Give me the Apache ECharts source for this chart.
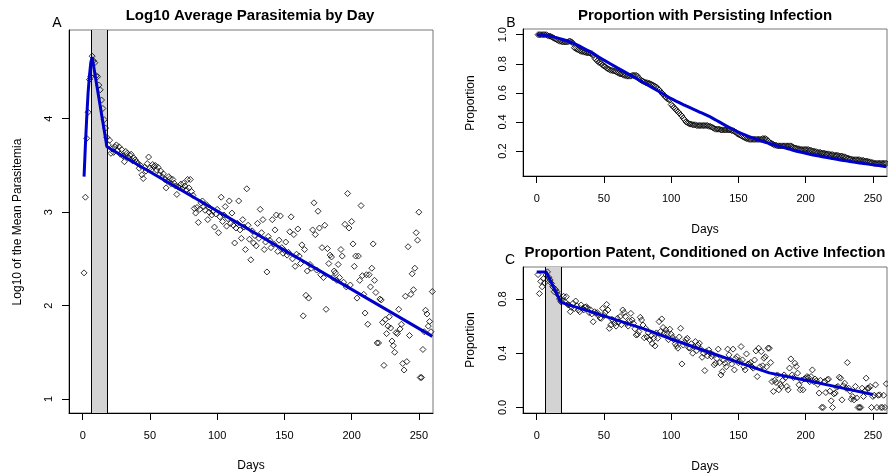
<!DOCTYPE html>
<html><head><meta charset="utf-8">
<script src="https://cdn.jsdelivr.net/npm/echarts@6/dist/echarts.min.js"></script>
<style>html,body{margin:0;padding:0;background:#fff}#c{width:888px;height:476px}</style>
</head><body><div id="c"></div>
<script>
// ---------- data ----------
const firstDay = 1;
// Panel A: log10 mean parasitemia, one value per day (day 1..260)
const parasitemia = [
2.35,3.16,3.79,4.07,4.42,4.45,4.67,4.62,4.60,4.46,
4.45,4.36,4.31,4.20,4.11,3.99,3.90,3.80,3.72,3.77,
3.63,3.68,3.64,3.70,3.72,3.66,3.70,3.62,3.67,3.60,
3.54,3.65,3.63,3.58,3.61,3.62,3.55,3.58,3.56,3.54,
3.52,3.47,3.50,3.40,3.36,3.48,3.44,3.52,3.59,3.47,
3.45,3.51,3.49,3.50,3.45,3.48,3.40,3.44,3.38,3.41,
3.35,3.26,3.33,3.38,3.36,3.30,3.35,3.31,3.28,3.19,
3.27,3.26,3.30,3.25,3.31,3.28,3.24,3.35,3.26,3.35,
3.22,3.18,3.04,2.99,3.05,2.89,3.03,3.10,3.12,3.06,
3.02,3.08,2.92,3.00,3.04,2.97,3.01,2.84,2.98,3.03,
2.78,2.95,3.16,2.90,2.97,3.06,2.85,2.93,3.12,2.88,
2.99,2.86,2.67,2.83,2.88,3.12,2.81,2.72,2.92,2.84,
2.60,3.25,2.86,2.71,2.49,2.80,2.67,2.75,2.64,2.88,
2.72,3.03,2.78,2.92,2.60,2.68,2.36,2.74,2.70,2.62,
2.92,2.66,2.81,2.97,2.58,2.70,2.96,2.62,2.56,2.59,
2.68,2.54,2.57,2.79,2.95,2.50,2.76,2.42,2.55,2.82,
2.53,2.45,2.65,1.89,2.60,2.11,2.37,2.08,2.44,2.40,
2.81,3.10,2.76,2.38,3.01,2.83,2.33,2.62,2.30,2.86,
1.96,2.61,2.45,2.54,2.52,2.30,2.37,2.35,2.27,2.44,
2.30,2.60,2.53,2.25,2.87,2.20,3.20,2.83,2.22,2.90,
2.66,2.42,2.53,2.08,2.53,2.27,3.07,2.32,2.12,1.92,
2.33,1.80,2.33,2.20,2.40,2.66,2.27,2.14,1.60,1.60,
2.07,2.06,1.82,1.36,1.85,1.70,1.78,1.88,1.76,1.62,
1.57,1.50,1.71,1.70,1.96,1.75,1.80,1.38,1.31,2.10,
1.40,2.63,1.68,2.12,2.34,2.17,2.40,2.78,2.70,3.00,
1.23,1.23,1.53,1.72,1.95,1.91,1.78,1.83,1.72,2.15];
const fitDaysA = [1,2,3,4,5,6,7,18,260];
const fitValsA = [3.38,3.72,4.02,4.28,4.46,4.60,4.66,3.70,1.67];

// Panel B: proportion with persisting infection (day 1..260)
const persisting = [
1,1,1,1,1,1,1,0.995,0.99,0.99,
0.985,0.98,0.975,0.97,0.965,0.96,0.955,0.955,0.95,0.95,
0.95,0.95,0.95,0.955,0.955,0.95,0.94,0.91,0.905,0.90,
0.895,0.89,0.885,0.885,0.88,0.88,0.875,0.875,0.875,0.87,
0.87,0.86,0.84,0.83,0.82,0.81,0.81,0.80,0.79,0.785,
0.78,0.77,0.765,0.76,0.755,0.755,0.75,0.75,0.745,0.74,
0.735,0.73,0.73,0.725,0.72,0.72,0.715,0.715,0.715,0.715,
0.72,0.72,0.72,0.72,0.715,0.70,0.69,0.685,0.68,0.675,
0.67,0.67,0.665,0.665,0.66,0.655,0.65,0.645,0.64,0.63,
0.62,0.61,0.60,0.59,0.58,0.57,0.56,0.555,0.55,0.52,
0.51,0.50,0.49,0.48,0.47,0.46,0.45,0.44,0.425,0.415,
0.40,0.395,0.39,0.385,0.385,0.38,0.38,0.38,0.375,0.375,
0.375,0.375,0.375,0.375,0.375,0.375,0.375,0.37,0.37,0.365,
0.36,0.355,0.35,0.35,0.35,0.35,0.345,0.345,0.345,0.345,
0.345,0.345,0.345,0.345,0.34,0.34,0.335,0.33,0.32,0.315,
0.31,0.305,0.30,0.295,0.29,0.285,0.285,0.28,0.28,0.28,
0.28,0.28,0.28,0.28,0.28,0.28,0.28,0.285,0.285,0.285,
0.28,0.27,0.26,0.255,0.25,0.245,0.24,0.24,0.235,0.235,
0.235,0.235,0.235,0.235,0.235,0.235,0.235,0.235,0.235,0.23,
0.225,0.22,0.22,0.215,0.215,0.21,0.21,0.21,0.21,0.21,
0.21,0.21,0.205,0.205,0.20,0.20,0.195,0.195,0.19,0.19,
0.19,0.185,0.185,0.185,0.18,0.18,0.18,0.175,0.175,0.175,
0.17,0.17,0.17,0.17,0.165,0.165,0.165,0.16,0.16,0.155,
0.15,0.15,0.145,0.145,0.14,0.14,0.14,0.14,0.14,0.14,
0.135,0.135,0.135,0.13,0.13,0.13,0.125,0.125,0.12,0.12,
0.115,0.115,0.115,0.115,0.115,0.115,0.115,0.115,0.115,0.115];
const fitDaysB = [0,10,20,30,40,50,60,70,80,90,100,110,120,130,140,150,160,170,180,190,200,210,220,230,240,250,260];
const fitValsB = [1.0,0.99,0.965,0.93,0.88,0.825,0.772,0.72,0.668,0.614,0.56,0.515,0.473,0.43,0.378,0.33,0.292,0.26,0.233,0.207,0.185,0.165,0.148,0.132,0.118,0.105,0.092];

// Panel C: proportion patent given active infection (day 1..260)
const patent = [
0.98,0.84,0.93,0.89,0.95,0.92,0.977,1.0,0.96,0.94,
0.915,0.89,0.854,0.87,0.854,0.83,0.80,0.78,0.79,0.82,
0.78,0.817,0.76,0.755,0.706,0.74,0.768,0.73,0.785,0.75,
0.719,0.706,0.756,0.73,0.72,0.74,0.743,0.731,0.70,0.72,
0.69,0.632,0.706,0.694,0.70,0.68,0.66,0.657,0.731,0.68,
0.70,0.76,0.719,0.583,0.608,0.65,0.64,0.62,0.60,0.657,
0.63,0.67,0.61,0.719,0.70,0.67,0.62,0.60,0.64,0.694,
0.645,0.62,0.58,0.534,0.539,0.559,0.665,0.645,0.608,0.514,
0.583,0.52,0.55,0.50,0.53,0.47,0.51,0.454,0.55,0.51,
0.633,0.56,0.653,0.59,0.55,0.572,0.547,0.50,0.577,0.54,
0.518,0.50,0.47,0.454,0.437,0.52,0.584,0.321,0.46,0.479,
0.50,0.51,0.44,0.437,0.47,0.40,0.449,0.486,0.42,0.46,
0.474,0.43,0.37,0.40,0.272,0.412,0.38,0.425,0.40,0.375,
0.39,0.314,0.326,0.36,0.43,0.33,0.24,0.265,0.35,0.326,
0.30,0.43,0.388,0.35,0.32,0.43,0.277,0.36,0.375,0.33,
0.34,0.449,0.351,0.30,0.277,0.395,0.32,0.321,0.331,0.30,
0.29,0.35,0.417,0.228,0.437,0.30,0.412,0.307,0.363,0.374,
0.30,0.437,0.437,0.331,0.191,0.118,0.20,0.184,0.24,0.13,
0.17,0.155,0.20,0.24,0.22,0.155,0.13,0.29,0.358,0.24,
0.22,0.326,0.302,0.253,0.167,0.13,0.20,0.13,0.21,0.216,
0.228,0.22,0.19,0.228,0.277,0.191,0.21,0.196,0.17,0.106,
0.20,0.0,0.0,0.191,0.11,0.204,0.209,0.12,0.049,0.0,
0.10,0.106,0.15,0.155,0.223,0.216,0.056,0.16,0.179,0.142,
0.331,0.142,0.12,0.061,0.08,0.056,0.155,0.07,0.0,0.0,
0.0,0.142,0.081,0.12,0.216,0.142,0.142,0.155,0.0,0.081,
0.09,0.167,0.0,0.09,0.093,0.0,0.0,0.09,0.0,0.174];
const fitDaysC = [0,7,18,50,82,100,125,150,173,200,225,250];
const fitValsC = [1.0,1.0,0.775,0.675,0.572,0.505,0.418,0.333,0.255,0.20,0.148,0.096];

const xTicks = [0,50,100,150,200,250];
const yTicksA = [1,2,3,4];
const yTicksB = [0.2,0.4,0.6,0.8,1.0];
const yTicksC = [0.0,0.4,0.8];
const shadeDays = [6.4, 18.3];

// ---------- chart ----------
const FONT = '"Liberation Sans", Arial, sans-serif';
const pairs = (xs, ys) => xs.map((x, i) => [x, ys[i]]);
const byDay = vals => vals.map((v, i) => [firstDay + i, v]);

function xAx(gi) {
  return {
    gridIndex: gi, type: 'value', min: -10.2, max: 260.5,
    axisLine: { onZero: false, lineStyle: { color: '#000', width: 1 } },
    axisTick: { customValues: xTicks, length: 7, lineStyle: { color: '#000' } },
    axisLabel: { customValues: xTicks, color: '#000', fontSize: 11, fontFamily: FONT, margin: 17 },
    splitLine: { show: false }
  };
}
function yAx(gi, min, max, ticks, fmt) {
  return {
    gridIndex: gi, type: 'value', min: min, max: max,
    axisLine: { onZero: false, lineStyle: { color: '#000', width: 1 } },
    axisTick: { customValues: ticks, length: 7, lineStyle: { color: '#000' } },
    axisLabel: { customValues: ticks, color: '#000', fontSize: 11, fontFamily: FONT, margin: 15, rotate: 90,
      formatter: v => fmt(v) },
    splitLine: { show: false }
  };
}
const pointStyle = {
  type: 'scatter', symbol: 'diamond', symbolSize: 6, silent: true, z: 3,
  itemStyle: { color: 'rgba(0,0,0,0)', borderColor: '#000', borderWidth: 1 }
};
const fitStyle = {
  type: 'line', showSymbol: false, silent: true, z: 4,
  lineStyle: { color: '#0000cd', width: 3 }
};
function shade(gi) {
  return {
    type: 'scatter', xAxisIndex: gi, yAxisIndex: gi, data: [], z: 1, silent: true,
    markArea: { silent: true, itemStyle: { color: '#d3d3d3' },
      data: [[{ xAxis: shadeDays[0] }, { xAxis: shadeDays[1] }]] },
    markLine: { silent: true, symbol: ['none', 'none'], label: { show: false },
      lineStyle: { color: '#000', type: 'solid', width: 1 },
      data: [{ xAxis: shadeDays[0] }, { xAxis: shadeDays[1] }] }
  };
}
function txt(x, y, text, size, bold, rot) {
  return { type: 'text', x: x, y: y, rotation: rot || 0, silent: true,
    style: { text: text, fontSize: size, fontWeight: bold ? 'bold' : 'normal', fontFamily: FONT,
      fill: '#000', align: 'center', verticalAlign: 'middle' } };
}

const gridBase = { show: true, borderColor: '#777', borderWidth: 1, backgroundColor: 'transparent' };
const option = {
  animation: false,
  backgroundColor: '#fff',
  grid: [
    Object.assign({ left: 69, top: 30, width: 364, height: 383 }, gridBase),
    Object.assign({ left: 523, top: 29, width: 364, height: 147 }, gridBase),
    Object.assign({ left: 523, top: 267, width: 364, height: 146 }, gridBase)
  ],
  xAxis: [xAx(0), xAx(1), xAx(2)],
  yAxis: [
    yAx(0, 0.85, 4.95, yTicksA, v => String(v)),
    yAx(1, 0.028, 1.039, yTicksB, v => v.toFixed(1)),
    yAx(2, -0.041, 1.036, yTicksC, v => v.toFixed(1))
  ],
  series: [
    shade(0),
    Object.assign({ xAxisIndex: 0, yAxisIndex: 0, data: byDay(parasitemia) }, pointStyle),
    Object.assign({ xAxisIndex: 0, yAxisIndex: 0, data: pairs(fitDaysA, fitValsA) }, fitStyle),
    Object.assign({ xAxisIndex: 1, yAxisIndex: 1, data: byDay(persisting) }, pointStyle),
    Object.assign({ xAxisIndex: 1, yAxisIndex: 1, data: pairs(fitDaysB, fitValsB), smooth: 0.3 }, fitStyle),
    shade(2),
    Object.assign({ xAxisIndex: 2, yAxisIndex: 2, data: byDay(patent) }, pointStyle),
    Object.assign({ xAxisIndex: 2, yAxisIndex: 2, data: pairs(fitDaysC, fitValsC) }, fitStyle)
  ],
  graphic: [
    txt(250, 16, 'Log10 Average Parasitemia by Day', 15, true),
    txt(705, 16, 'Proportion with Persisting Infection', 15, true),
    txt(705, 253, 'Proportion Patent, Conditioned on Active Infection', 15, true),
    txt(57, 23, 'A', 14, false),
    txt(511, 23, 'B', 14, false),
    txt(510, 260, 'C', 14, false),
    txt(18, 222, 'Log10 of the Mean Parasitemia', 12, false, Math.PI / 2),
    txt(471, 103, 'Proportion', 12, false, Math.PI / 2),
    txt(471, 340, 'Proportion', 12, false, Math.PI / 2),
    txt(251, 466, 'Days', 12, false),
    txt(705, 230, 'Days', 12, false),
    txt(705, 467, 'Days', 12, false)
  ]
};
const chart = echarts.init(document.getElementById('c'), null, { renderer: 'canvas' });
chart.setOption(option);
</script>
</body></html>
